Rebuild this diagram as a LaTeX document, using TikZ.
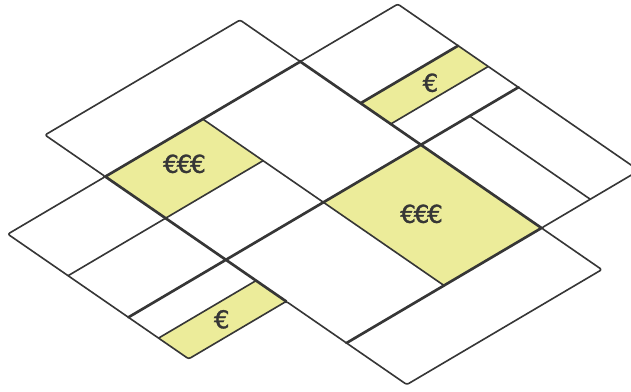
\documentclass[tikz,border=0pt]{standalone}
\usepackage{fontspec}
\newfontfamily\eurofont[LetterSpace=-9,FakeBold=1.2]{DejaVu Sans}
\definecolor{plotline}{HTML}{363636}
\definecolor{paidlot}{HTML}{ECEC9A}
\tikzset{
  lot/.style={draw=plotline,line width=1.15pt,line join=round,rounded corners=1.5pt}, % plot edge
  road/.style={draw=plotline,line width=1.9pt,line cap=round},                        % main divide
  paid/.style={fill=paidlot},
  price/.style={text=plotline,inner sep=0pt,font=\eurofont\fontsize{17.5}{18}\selectfont},
}

\begin{document}
\begin{tikzpicture}
  \useasboundingbox (0,0) rectangle (15.775,9.775);
  \clip (0,0) rectangle (15.775,9.775);
  \begin{scope}[shift={(1.125cm,6.4cm)},x={(2.4375cm,1.4375cm)},y={(1.5075cm,-1.04cm)}]
    % priced lots
    \fill[paid] (0,1) -- (1,1) -- (1,2) -- (0,2) -- cycle;
    \fill[paid] (2,2) -- (3,2) -- (3,2.5) -- (2,2.5) -- cycle;
    \fill[paid] (1,3) -- (2,3) -- (2,5) -- (1,5) -- cycle;
    \fill[paid] (-1,3.5) -- (0,3.5) -- (0,4) -- (-1,4) -- cycle;
    % outline
    \draw[lot] (2,1) -- (3,1) -- (3,5) -- (2,5) -- (2,6) -- (0,6) -- (0,4) -- (-1,4)
      -- (-1,1) -- (0,1) -- (0,0) -- (2,0) -- cycle;
    % inner divisions
    \draw[lot] (-1,2) -- (1,2);
    \draw[lot] (1,1) -- (1,5);
    \draw[lot] (-1,3.5) -- (0,3.5);
    \draw[lot] (2,2.5) -- (3,2.5);
    \draw[lot] (2.5,3) -- (2.5,5);
    % main divides
    \draw[road] (0,1) -- (0,4);
    \draw[road] (0,1) -- (2,1);
    \draw[road] (2,1) -- (2,5);
    \draw[road] (-1,3) -- (3,3);
    \draw[road] (0,5) -- (2,5);
    \draw[road] (2,2) -- (3,2);
    % labels
    \node[price] (lotA) at (0.54,1.44) {€€€};
    \node[price] (lotB) at (2.55,2.27) {€};
    \node[price] (lotC) at (1.45,3.9) {€€€};
    \node[price] (lotD) at (-0.5,3.74) {€};
  \end{scope}
\end{tikzpicture}
\end{document}
